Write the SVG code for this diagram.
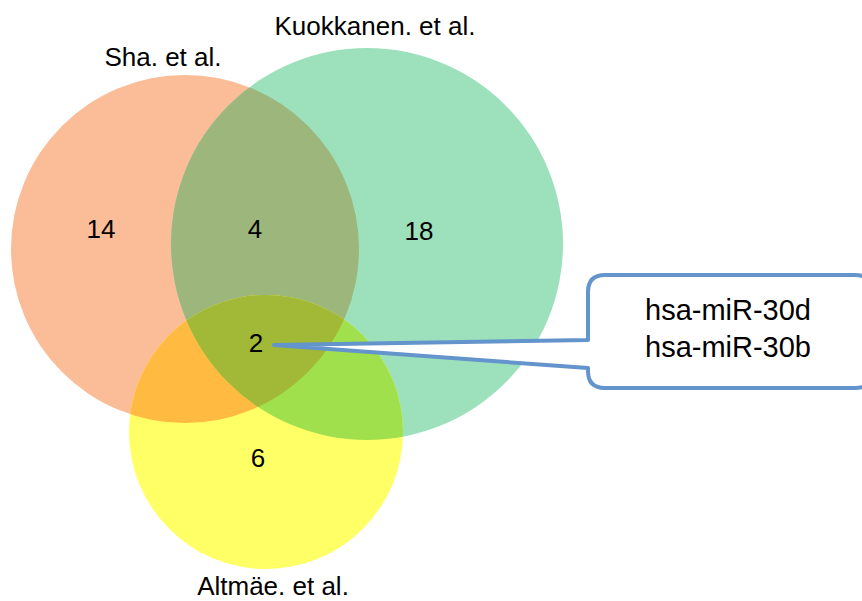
<svg xmlns="http://www.w3.org/2000/svg" width="862" height="601" viewBox="0 0 862 601">
  <style>
    .lbl { font-family: "Liberation Sans", Arial, sans-serif; font-size: 26px; fill: #000; text-anchor: middle; }
    .num { font-family: "Liberation Sans", Arial, sans-serif; font-size: 26px; fill: #000; text-anchor: middle; }
    .call { font-family: "Liberation Sans", Arial, sans-serif; font-size: 29px; fill: #000; text-anchor: middle; }
    .bubble { fill: #fff; stroke: #6394CB; stroke-width: 4; stroke-linejoin: round; stroke-linecap: round; }
  </style>
  <defs>
    <clipPath id="clipSha"><circle cx="185" cy="249" r="174"/></clipPath>
    <clipPath id="clipKuo"><circle cx="367" cy="244" r="196"/></clipPath>
  </defs>
  <rect width="862" height="601" fill="#fff"/>

  <!-- set circles -->
  <g id="set-sha">
    <circle cx="185" cy="249" r="174" fill="#FBBD97"/>
  </g>
  <g id="set-kuokkanen">
    <circle cx="367" cy="244" r="196" fill="#9CE0BC"/>
    <circle cx="367" cy="244" r="196" fill="#9DB67B" clip-path="url(#clipSha)"/>
  </g>
  <g id="set-altmae">
    <circle cx="266" cy="432" r="137" fill="#FFFF66"/>
    <circle cx="266" cy="432" r="137" fill="#FFBA42" clip-path="url(#clipSha)"/>
    <circle cx="266" cy="432" r="137" fill="#A0E04D" clip-path="url(#clipKuo)"/>
    <g clip-path="url(#clipKuo)">
      <circle cx="266" cy="432" r="137" fill="#A1B936" clip-path="url(#clipSha)"/>
    </g>
  </g>

  <!-- set titles -->
  <g id="titles">
    <text class="lbl" x="163" y="66">Sha. et al.</text>
    <text class="lbl" x="375" y="35">Kuokkanen. et al.</text>
    <text class="lbl" x="273" y="595">Altmäe. et al.</text>
  </g>

  <!-- region counts -->
  <g id="counts">
    <text class="num" x="101" y="238">14</text>
    <text class="num" x="255" y="238">4</text>
    <text class="num" x="419" y="240">18</text>
    <text class="num" x="256" y="352">2</text>
    <text class="num" x="258" y="467">6</text>
  </g>

  <!-- callout for the shared region -->
  <g id="connectors">
    <path class="bubble" d="M 274 345 L 588 340 L 588 292 Q 588 275 605 275 L 855 275 Q 872 275 872 292 L 872 371 Q 872 388 855 388 L 605 388 Q 588 388 588 371 L 588 368 Z"/>
  </g>
  <g id="callout-text">
    <text class="call" x="728" y="320">hsa-miR-30d</text>
    <text class="call" x="728" y="357">hsa-miR-30b</text>
  </g>
</svg>
